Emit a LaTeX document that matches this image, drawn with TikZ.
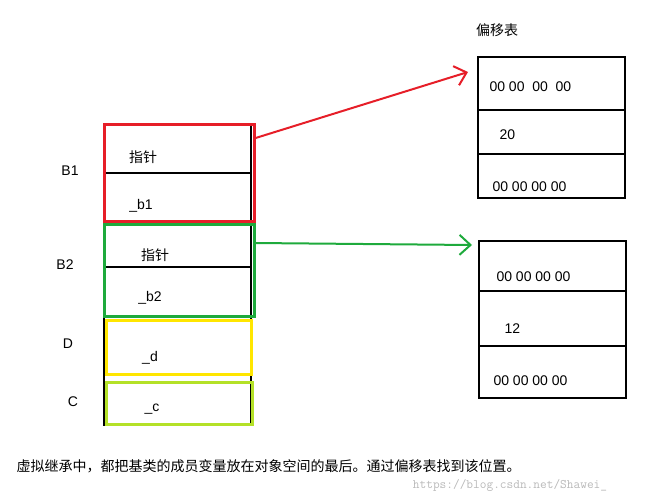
\documentclass[tikz,border=0pt]{standalone}
\usepackage{fontspec}
\setmainfont{Liberation Sans}
\newfontfamily\cjk{Noto Sans CJK SC}
\usetikzlibrary{arrows.meta, positioning}
\definecolor{boxred}{RGB}{230, 30, 40}
\definecolor{boxgreen}{RGB}{30, 170, 60}
\definecolor{boxyellow}{RGB}{255, 230, 0}
\definecolor{boxlime}{RGB}{180, 225, 40}
\begin{document}
\begin{tikzpicture}[
        x=1pt, y=-1pt,
        font=\fontsize{14}{16}\selectfont,
        cell/.style={
            rectangle,
            draw=black,
            line width=1.6pt,
            minimum width=147pt,
            inner sep=0pt,
            outer sep=0pt
        },
        entry/.style={anchor=west},
        arrow/.style={
            -{Straight Barb[length=11pt, width=20pt, line width=2pt]},
            line width=2pt
        }
    ]
        \useasboundingbox (0,0) rectangle (652,503);
        % Object layout
        \node[cell, minimum height=49pt, anchor=north west] (b1ptr) at (104,124) {};
        \node[cell, minimum height=48pt, below=0pt of b1ptr] (b1) {};
        \node[cell, minimum height=43pt, below=3pt of b1] (b2ptr) {};
        \node[cell, minimum height=50pt, below=0pt of b2ptr] (b2) {};
        \node[cell, minimum height=58pt, below=0pt of b2] (d) {};
        \node[cell, minimum height=50pt, below=0pt of d] (c) {};
        \draw[boxred, line width=3pt] (104,124) rectangle (254,221);
        \draw[boxgreen, line width=3pt] (104,224) rectangle (254,316);
        \draw[boxyellow, line width=3pt] (106,320) rectangle (251,374);
        \draw[boxlime, line width=3pt] (106,382) rectangle (252,424);
        \node at (143,157) {\cjk 指针};
        \node at (141,206) {\_b1};
        \node at (155,255) {\cjk 指针};
        \node at (150,298) {\_b2};
        \node at (150,358) {\_d};
        \node at (152,409) {\_c};
        \node at (70,171) {B1};
        \node at (65,265) {B2};
        \node at (68,344) {D};
        \node at (73,402) {C};
        % Offset tables
        \node at (497,30) {\cjk 偏移表};
        \node[cell, minimum height=53pt, anchor=north west] (t1a) at (478,57) {};
        \node[cell, minimum height=44pt, below=0pt of t1a] (t1b) {};
        \node[cell, minimum height=44pt, below=0pt of t1b] (t1c) {};
        \node[entry] at (486,87) {00 00~~00~~00};
        \node[entry] at (496,135) {20};
        \node[entry] at (489,187) {00 00 00 00};
        \node[cell, minimum height=50pt, anchor=north west] (t2a) at (479,241) {};
        \node[cell, minimum height=55pt, below=0pt of t2a] (t2b) {};
        \node[cell, minimum height=52pt, below=0pt of t2b] (t2c) {};
        \node[entry] at (493,277) {00 00 00 00};
        \node[entry] at (501,329) {12};
        \node[entry] at (490,381) {00 00 00 00};
        \coordinate (redend) at (468,72);
        \coordinate (greenend) at (472,245);
        % Arrows
        \draw[arrow, boxred] (b1ptr.east) ++(3,-10) -- (redend);
        \draw[arrow, boxgreen] (b2ptr.north east) ++(4,19) -- (greenend);
        % Caption
        \node[anchor=west] at (13,466) {\cjk 虚拟继承中，都把基类的成员变量放在对象空间的最后。通过偏移表找到该位置。};
        \node[font=\ttfamily\fontsize{13}{15}\selectfont, text=gray!55] at (510,485) {https://blog.csdn.net/Shawei\_};
    \end{tikzpicture}
\end{document}
